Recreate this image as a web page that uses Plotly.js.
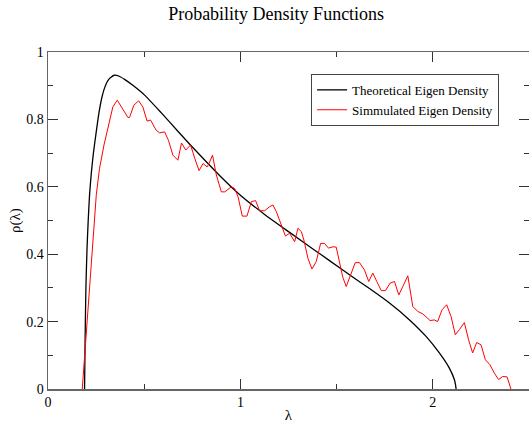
<!DOCTYPE html>
<html>
<head>
<meta charset="utf-8">
<script src="https://cdn.plot.ly/plotly-3.0.1.min.js"></script>
<style>html,body{margin:0;padding:0;background:#fff;}#chart{width:529px;height:425px;}</style>
</head>
<body>
<div id="chart"></div>
<script>
// Theoretical eigenvalue density
const theoLambda = [0.190, 0.193, 0.197, 0.203, 0.209, 0.216, 0.225, 0.236, 0.250, 0.265, 0.280, 0.295, 0.315, 0.344, 0.370, 0.400, 0.441, 0.502, 0.588, 0.675, 0.760, 0.893, 1.000, 1.126, 1.250, 1.386, 1.463, 1.567, 1.671, 1.775, 1.879, 1.965, 2.034, 2.086, 2.112, 2.118, 2.121];
const theoRho = [0, 0.15, 0.30, 0.42, 0.50, 0.576, 0.64, 0.70, 0.76, 0.82, 0.865, 0.895, 0.918, 0.931, 0.928, 0.918, 0.901, 0.872, 0.820, 0.765, 0.712, 0.633, 0.575, 0.518, 0.467, 0.412, 0.381, 0.339, 0.298, 0.255, 0.205, 0.156, 0.107, 0.062, 0.028, 0.013, 0];

// Simulated eigenvalue density
const simLambda = [0.178, 0.251, 0.268, 0.291, 0.337, 0.360, 0.415, 0.424, 0.446, 0.471, 0.493, 0.515, 0.533, 0.562, 0.580, 0.606, 0.626, 0.649, 0.675, 0.694, 0.716, 0.741, 0.763, 0.785, 0.806, 0.827, 0.837, 0.855, 0.875, 0.901, 0.919, 0.953, 0.970, 0.988, 1.010, 1.034, 1.057, 1.079, 1.100, 1.126, 1.152, 1.169, 1.187, 1.213, 1.234, 1.256, 1.282, 1.299, 1.317, 1.330, 1.351, 1.372, 1.394, 1.417, 1.437, 1.458, 1.481, 1.498, 1.515, 1.532, 1.550, 1.576, 1.597, 1.619, 1.645, 1.667, 1.688, 1.709, 1.732, 1.754, 1.778, 1.801, 1.823, 1.844, 1.870, 1.896, 1.922, 1.948, 1.965, 1.986, 2.008, 2.025, 2.048, 2.072, 2.095, 2.117, 2.138, 2.164, 2.186, 2.207, 2.228, 2.251, 2.273, 2.297, 2.320, 2.342, 2.363, 2.386, 2.406];
const simRho = [0, 0.576, 0.655, 0.724, 0.837, 0.857, 0.806, 0.806, 0.842, 0.855, 0.837, 0.795, 0.798, 0.768, 0.760, 0.763, 0.738, 0.694, 0.679, 0.730, 0.709, 0.724, 0.684, 0.648, 0.669, 0.659, 0.669, 0.694, 0.635, 0.585, 0.585, 0.600, 0.595, 0.570, 0.513, 0.513, 0.556, 0.559, 0.529, 0.529, 0.541, 0.546, 0.526, 0.487, 0.454, 0.462, 0.437, 0.477, 0.467, 0.442, 0.388, 0.356, 0.378, 0.432, 0.432, 0.418, 0.422, 0.421, 0.378, 0.332, 0.304, 0.345, 0.375, 0.375, 0.353, 0.319, 0.344, 0.319, 0.292, 0.292, 0.314, 0.319, 0.279, 0.304, 0.336, 0.245, 0.230, 0.223, 0.213, 0.203, 0.205, 0.200, 0.235, 0.250, 0.215, 0.161, 0.176, 0.197, 0.146, 0.107, 0.138, 0.131, 0.087, 0.072, 0.047, 0.028, 0.037, 0.036, 0];

const xTicks = [0, 1, 2];
const yTicks = [0, 0.2, 0.4, 0.6, 0.8, 1];
const seriesNames = ["Theoretical Eigen Density", "Simmulated Eigen Density"];

const font = '"Liberation Serif", "Times New Roman", serif';

const traces = [
  {x: theoLambda, y: theoRho, type: "scatter", mode: "lines", name: seriesNames[0],
   line: {color: "#000000", width: 1.3, shape: "spline", smoothing: 0.6}},
  {x: simLambda, y: simRho, type: "scatter", mode: "lines", name: seriesNames[1],
   line: {color: "#ff0000", width: 1}}
];

const axisCommon = {
  showgrid: false, zeroline: false, showline: true, linecolor: "#666", linewidth: 1.5,
  mirror: "ticks", ticks: "inside", ticklen: 10, tickwidth: 1, tickcolor: "#333",
  tickfont: {family: font, size: 14, color: "#000"},
  minor: {ticks: "inside", ticklen: 5, tickwidth: 1, tickcolor: "#333", showgrid: false}
};

const layout = {
  width: 529, height: 425,
  margin: {l: 48, r: 0, t: 52, b: 36},
  paper_bgcolor: "#fff", plot_bgcolor: "#fff",
  showlegend: true,
  title: {text: "Probability Density Functions", font: {family: font, size: 18, color: "#000"},
          x: 0.522, xanchor: "center", xref: "container", y: 0.967, yanchor: "middle"},
  xaxis: Object.assign({}, axisCommon, {
    range: [0, 2.5], tickvals: xTicks, ticktext: xTicks.map(String),
    minor: Object.assign({}, axisCommon.minor, {dtick: 0.5, tick0: 0}),
    title: {text: "λ", font: {family: font, size: 15, color: "#000"}, standoff: 0}
  }),
  yaxis: Object.assign({}, axisCommon, {
    range: [0, 1], tickvals: yTicks, ticktext: yTicks.map(String),
    minor: Object.assign({}, axisCommon.minor, {dtick: 0.1, tick0: 0}),
    title: {text: "ρ(λ)", font: {family: font, size: 15, color: "#000"}, standoff: 2}
  }),
  legend: {x: 0.547, y: 0.935, xanchor: "left", yanchor: "top",
           bgcolor: "#fff", bordercolor: "#444", borderwidth: 1,
           font: {family: font, size: 13, color: "#000"},
           itemwidth: 30, tracegroupgap: 0}
};

Plotly.newPlot("chart", traces, layout, {staticPlot: true, displayModeBar: false});
</script>
</body>
</html>
